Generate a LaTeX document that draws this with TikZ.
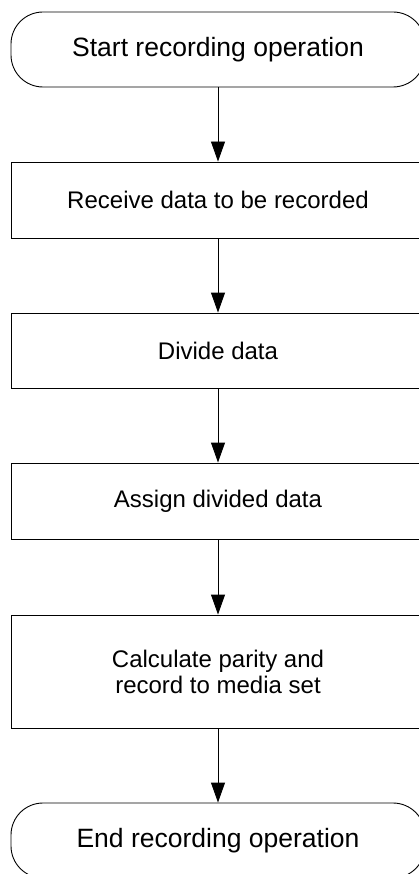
\documentclass[tikz,border=0pt]{standalone}
\usepackage{fontspec}
\setmainfont{Liberation Sans}
\usetikzlibrary{shapes, arrows.meta}
\tikzstyle{line} = [draw, line width=0.9pt, -{Triangle[length=20pt,width=14pt]}]
\tikzstyle{term} = [draw, line width=0.9pt, rounded corners=32pt, minimum width=414pt, minimum height=75pt, font=\fontsize{26.5}{30}\selectfont]
\tikzstyle{block} = [draw, line width=0.9pt, minimum width=414pt, align=center, font=\fontsize{24}{26}\selectfont]

\begin{document}
\begin{tikzpicture}[x=1pt,y=-1pt]

%Page
\useasboundingbox (0,0) rectangle (419,874);
\clip (0,0) rectangle (419,874);
\fill[white] (0,0) rectangle (419,874);

%Terminals and boxes
\node[term] (start) at (218,49.5) {Start recording operation};
\node[block, minimum height=76pt] (recv) at (218,200) {Receive data to be recorded};
\node[block, minimum height=75pt] (divide) at (218,350.5) {Divide data};
\node[block, minimum height=76pt] (assign) at (218,501) {Assign divided data};
\node[block, minimum height=113pt] (calc) at (218,671.5) {Calculate parity and\\record to media set};
\node[term] (finish) at (218,840.5) {End recording operation};

%Arrows
\path [line] (start) -- (recv);
\path [line] (recv) -- (divide);
\path [line] (divide) -- (assign);
\path [line] (assign) -- (calc);
\path [line] (calc) -- (finish);

\end{tikzpicture}
\end{document}
